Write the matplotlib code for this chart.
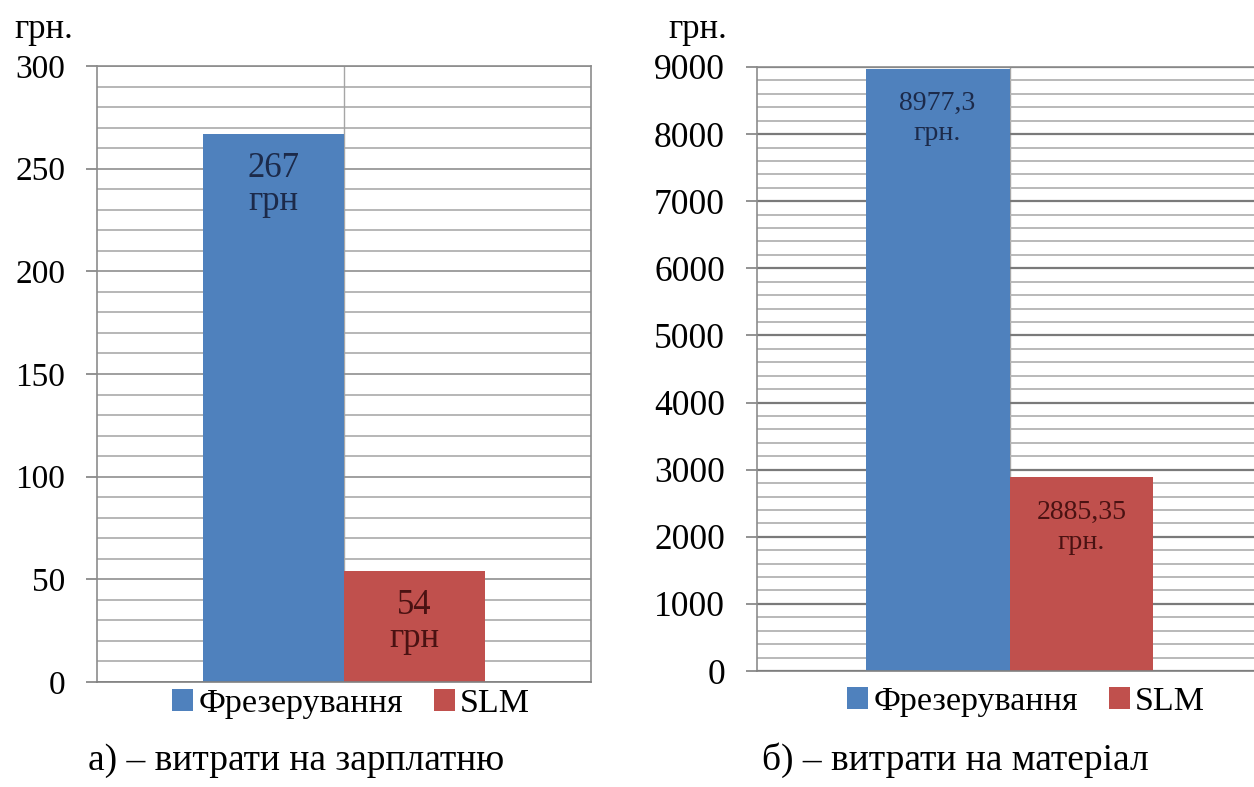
"""Cost comparison: milling vs SLM (wages and material)"""
# -*- coding: utf-8 -*-

import matplotlib
matplotlib.use('Agg')
import matplotlib.pyplot as plt
from matplotlib.ticker import MultipleLocator
from matplotlib.patches import Patch

plt.rcParams['font.family'] = ['Liberation Serif', 'DejaVu Serif']

series = ['Фрезерування', 'SLM']
colors = ['#4f81bd', '#c0504d']
label_colors = ['#1c2a4a', '#4a1212']

wage_values = [267, 54]
wage_labels = ['267\nгрн', '54\nгрн']

material_values = [8977.3, 2885.35]
material_labels = ['8977,3\nгрн.', '2885,35\nгрн.']

unit_label = 'грн.'
captions = ['а) – витрати на зарплатню', 'б) – витрати на матеріал']

W, H = 1254, 787
fig = plt.figure(figsize=(W / 100, H / 100), dpi=100)


def px_axes(left, right, top, bottom):
    " axes from pixel box "
    return fig.add_axes([left / W, (H - bottom) / H, (right - left) / W,
                         (bottom - top) / H])


def draw_panel(ax, values, labels, ymax, major, minor, grid_major, grid_minor,
               label_size, offset, spacing, tick_size):
    """ two bars of one category with gridlines and inner labels """
    bar_w = 0.57
    xs = [-bar_w / 2, bar_w / 2]
    ax.set_xlim(-1, 1)
    ax.set_ylim(0, ymax)
    ax.yaxis.set_major_locator(MultipleLocator(major))
    ax.yaxis.set_minor_locator(MultipleLocator(minor))
    ax.grid(which='major', axis='y', color=grid_major[0], lw=grid_major[1])
    ax.grid(which='minor', axis='y', color=grid_minor[0], lw=grid_minor[1])
    ax.axvline(0, color='#a6a6a6', lw=1.0, zorder=0.5)
    ax.set_axisbelow(True)
    for x, v, c in zip(xs, values, colors):
        ax.bar(x, v, width=bar_w, color=c, zorder=2)
    for x, v, t, c in zip(xs, values, labels, label_colors):
        ax.annotate(t, xy=(x, v), xytext=(0, -offset),
                    textcoords='offset points', ha='center', va='top',
                    multialignment='center', fontsize=label_size, color=c,
                    linespacing=spacing, zorder=3)
    ax.set_xticks([])
    ax.tick_params(axis='y', which='major', length=8, width=1.2,
                   color='#808080', pad=15, labelsize=tick_size)
    ax.tick_params(axis='y', which='minor', length=0)
    for s in ax.spines.values():
        s.set_color('#8c8c8c')
        s.set_linewidth(1.2)
    ax.spines['bottom'].set_color('#808080')


ax1 = px_axes(97, 591, 66, 682)
draw_panel(ax1, wage_values, wage_labels, 300, 50, 10,
           ('#8f8f8f', 1.2), ('#a3a3a3', 1.1), 25, 13, 1.0, 24)

ax2 = px_axes(757, 1262, 67, 671)
draw_panel(ax2, material_values, material_labels, 9000, 1000, 200,
           ('#7a7a7a', 1.6), ('#b3b3b3', 1.3), 20, 16, 1.3, 25.5)
ax2.spines['right'].set_visible(False)

# unit labels above the value axes
fig.text(73 / W, (H - 38) / H, unit_label, ha='right', va='baseline',
         fontsize=25)
fig.text(727 / W, (H - 38) / H, unit_label, ha='right', va='baseline',
         fontsize=25)

handles = [Patch(facecolor=c, edgecolor='none', label=s)
           for s, c in zip(series, colors)]
for cx, cy in [(351, 704), (1026, 702)]:
    fig.legend(handles=handles, loc='center', ncol=2, frameon=False,
               bbox_to_anchor=(cx / W, (H - cy) / H), fontsize=24.5,
               handlelength=0.63, handleheight=0.63, handletextpad=0.15,
               columnspacing=0.9, borderpad=0)

fig.text(296 / W, (H - 770) / H, captions[0], ha='center', va='baseline',
         fontsize=27)
fig.text(955 / W, (H - 770) / H, captions[1], ha='center', va='baseline',
         fontsize=27)

fig.savefig('out.png', dpi=100)
